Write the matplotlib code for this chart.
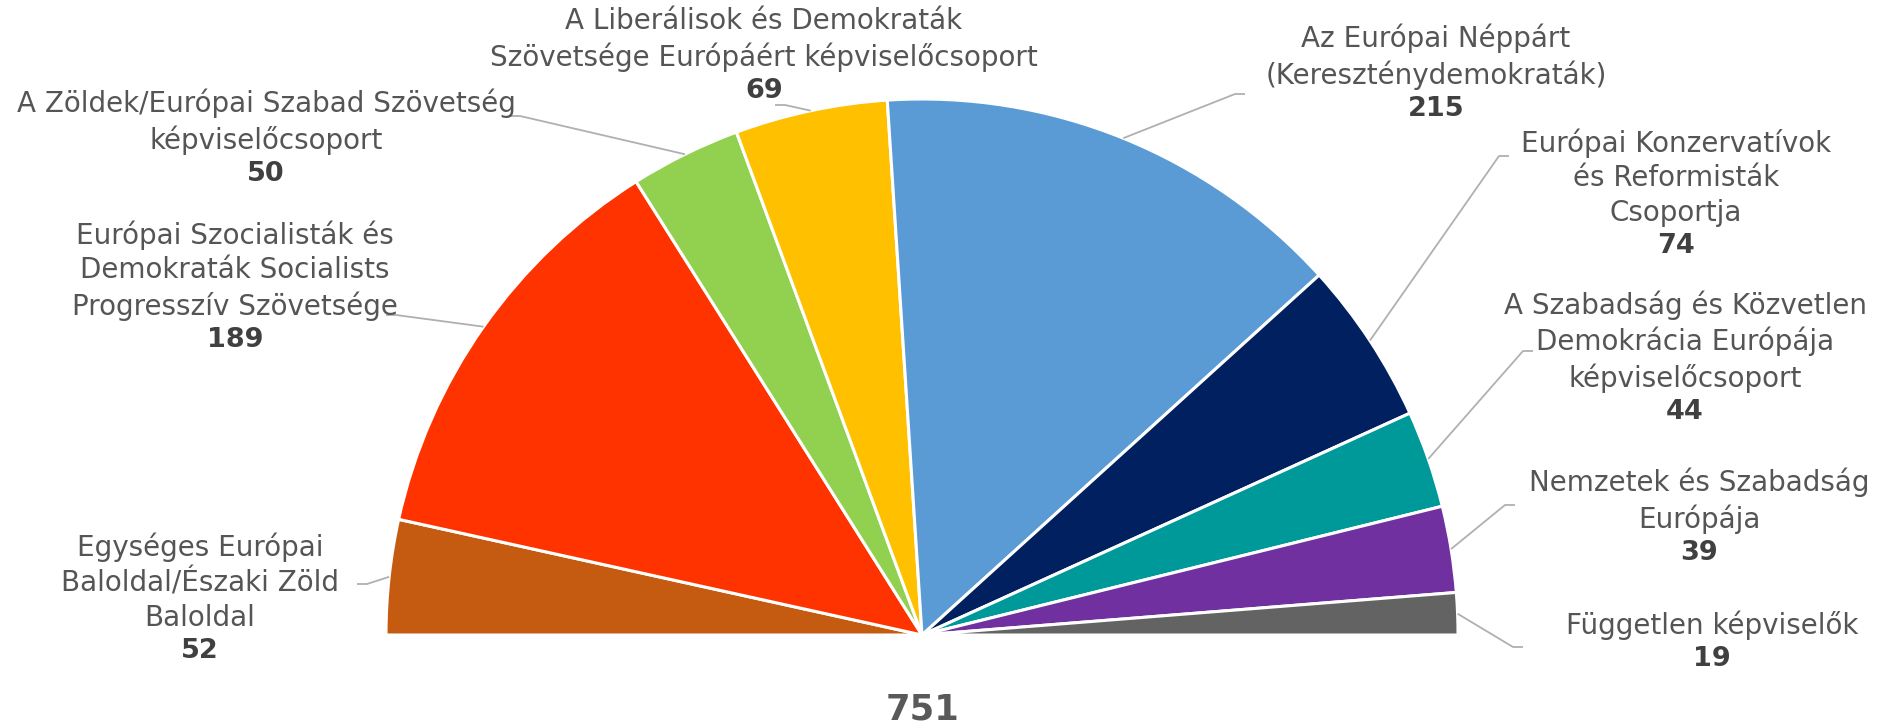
import numpy as np
import matplotlib.pyplot as plt

# Európai Parlament képviselőcsoportjai (félkör diagram)
groups = [
    "Egységes Európai\nBaloldal/Északi Zöld\nBaloldal",
    "Európai Szocialisták és\nDemokraták Socialists\nProgresszív Szövetsége",
    "A Zöldek/Európai Szabad Szövetség\nképviselőcsoport",
    "A Liberálisok és Demokraták\nSzövetsége Európáért képviselőcsoport",
    "Az Európai Néppárt\n(Kereszténydemokraták)",
    "Európai Konzervatívok\nés Reformisták\nCsoportja",
    "A Szabadság és Közvetlen\nDemokrácia Európája\nképviselőcsoport",
    "Nemzetek és Szabadság\nEurópája",
    "Független képviselők",
]
seats = [52, 189, 50, 69, 215, 74, 44, 39, 19]
colors = ["#C55A11", "#FF3300", "#92D050", "#FFC000", "#5B9BD5",
          "#002060", "#009999", "#7030A0", "#636363"]

W, H = 1880, 728
def py(y):
    return H - y

# címkék helye (pixel): szöveg közepe x, szám sor közepe y, vezetővonal vége
label_x = [200, 235, 266, 764, 1436, 1676, 1685, 1699, 1712]
num_y = [651, 340, 174, 91, 109, 246, 412, 553, 659]
leader_end = [(367, 584), (396, 315), (520, 116), (785, 105), (1235, 94),
              (1499, 156), (1523, 351), (1505, 505), (1513, 647)]

cx, cy, r = 922, 635, 536
total = sum(seats)

fig = plt.figure(figsize=(W / 100, H / 100), dpi=100)
ax = fig.add_axes([0, 0, 1, 1])

wedges, _ = ax.pie(seats + [total], colors=colors + ["white"], startangle=180,
                   counterclock=False, center=(cx, py(cy)), radius=r,
                   wedgeprops=dict(edgecolor="white", linewidth=2.2))
wedges[-1].set_visible(False)

ax.set_xlim(0, W)
ax.set_ylim(0, H)
ax.set_aspect("equal")
ax.axis("off")

for i, w in enumerate(wedges[:-1]):
    mid = np.deg2rad((w.theta1 + w.theta2) / 2)
    sx = cx + r * np.cos(mid)
    sy = py(cy) + r * np.sin(mid)
    ex, ey = leader_end[i]
    hx = ex - 10 if ex < cx else ex + 10
    ax.plot([sx, ex, hx], [sy, py(ey), py(ey)], color="#B0B0B0", lw=1.3,
            solid_capstyle="butt")
    ax.text(label_x[i], py(num_y[i] - 19), groups[i], ha="center", va="bottom",
            fontsize=20, color="#555555", linespacing=1.3)
    ax.text(label_x[i], py(num_y[i]), str(seats[i]), ha="center", va="center",
            fontsize=19.5, fontweight="bold", color="#404040")

ax.text(cx, py(710), str(total), ha="center", va="center", fontsize=25.5,
        fontweight="bold", color="#595959")

fig.savefig("out.png", dpi=100)
